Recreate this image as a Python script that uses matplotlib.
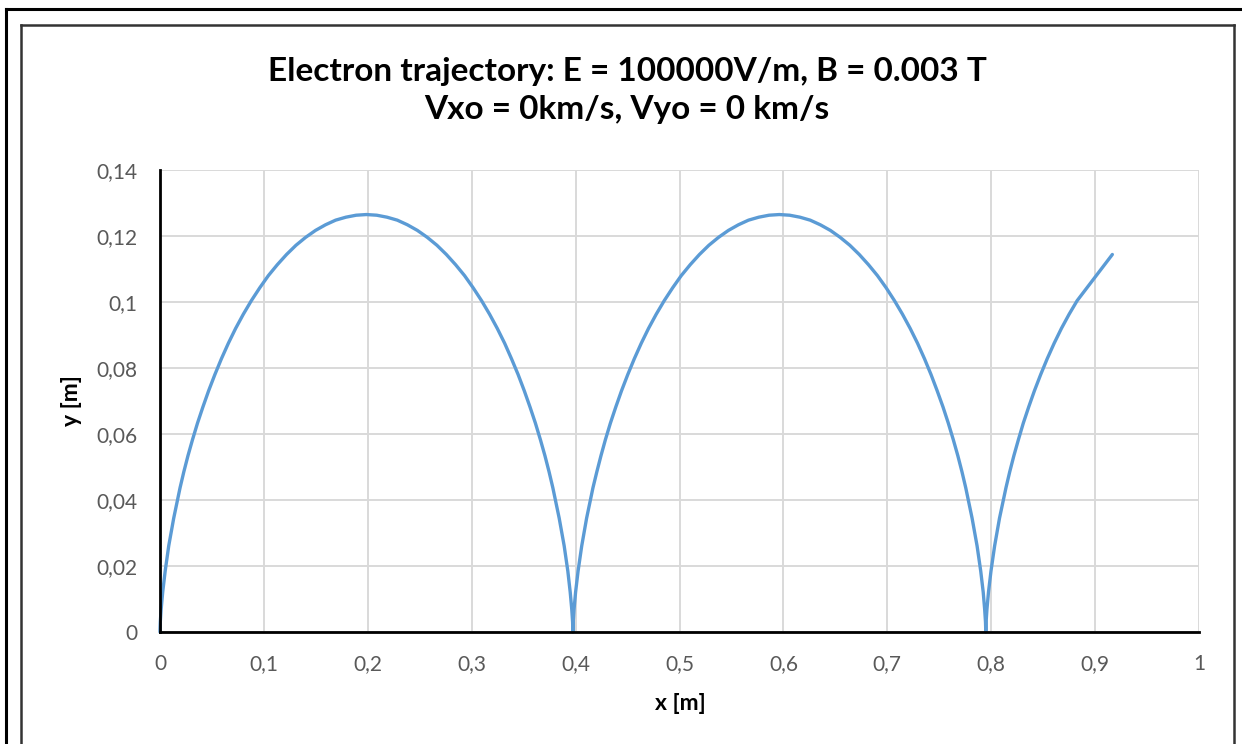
import matplotlib
matplotlib.use("Agg")
import matplotlib.pyplot as plt
from matplotlib.lines import Line2D

plt.rcParams['font.family'] = ['Lato', 'DejaVu Sans']

# trajectory (x [m], y [m])
x_m = [0.0000, 0.0000, 0.0003, 0.0011, 0.0026, 0.0050, 0.0084, 0.0132, 0.0193, 0.0229,
       0.0269, 0.0313, 0.0361, 0.0413, 0.0468, 0.0528, 0.0591, 0.0658, 0.0728, 0.0802,
       0.0879, 0.0960, 0.1043, 0.1129, 0.1218, 0.1309, 0.1402, 0.1497, 0.1593, 0.1690,
       0.1789, 0.1888, 0.1987, 0.2086, 0.2185, 0.2284, 0.2381, 0.2477, 0.2572, 0.2665,
       0.2756, 0.2845, 0.2931, 0.3014, 0.3095, 0.3172, 0.3246, 0.3317, 0.3383, 0.3447,
       0.3506, 0.3561, 0.3613, 0.3661, 0.3705, 0.3745, 0.3781, 0.3842, 0.3890, 0.3925,
       0.3948, 0.3963, 0.3971, 0.3974, 0.3974,
       0.3975, 0.3977, 0.3985, 0.4000, 0.4024, 0.4059, 0.4106, 0.4167, 0.4204,
       0.4244, 0.4287, 0.4335, 0.4387, 0.4442, 0.4502, 0.4565, 0.4632, 0.4702, 0.4776,
       0.4853, 0.4934, 0.5017, 0.5103, 0.5192, 0.5283, 0.5376, 0.5471, 0.5567, 0.5664,
       0.5763, 0.5862, 0.5961, 0.6060, 0.6159, 0.6258, 0.6355, 0.6452, 0.6546, 0.6639,
       0.6730, 0.6819, 0.6905, 0.6989, 0.7069, 0.7146, 0.7220, 0.7291, 0.7358, 0.7421,
       0.7480, 0.7536, 0.7587, 0.7635, 0.7679, 0.7719, 0.7755, 0.7816, 0.7864, 0.7899,
       0.7923, 0.7937, 0.7945, 0.7948, 0.7948,
       0.7949, 0.7951, 0.7959, 0.7974, 0.7998, 0.8033, 0.8080, 0.8142, 0.8178,
       0.8218, 0.8262, 0.8309, 0.8361, 0.8416, 0.8476, 0.8539, 0.8606, 0.8676, 0.8750,
       0.8827, 0.9166]
y_m = [0.0000, 0.0008, 0.0031, 0.0069, 0.0121, 0.0185, 0.0261, 0.0345, 0.0437, 0.0485,
       0.0534, 0.0583, 0.0633, 0.0682, 0.0731, 0.0780, 0.0828, 0.0875, 0.0920, 0.0963,
       0.1004, 0.1043, 0.1080, 0.1113, 0.1144, 0.1172, 0.1196, 0.1217, 0.1234, 0.1248,
       0.1257, 0.1263, 0.1265, 0.1263, 0.1257, 0.1248, 0.1234, 0.1217, 0.1196, 0.1172,
       0.1144, 0.1113, 0.1080, 0.1043, 0.1004, 0.0963, 0.0920, 0.0875, 0.0828, 0.0780,
       0.0731, 0.0682, 0.0633, 0.0583, 0.0534, 0.0485, 0.0437, 0.0345, 0.0261, 0.0185,
       0.0121, 0.0069, 0.0031, 0.0008, 0.0000,
       0.0008, 0.0031, 0.0069, 0.0121, 0.0185, 0.0261, 0.0345, 0.0437, 0.0485,
       0.0534, 0.0583, 0.0633, 0.0682, 0.0731, 0.0780, 0.0828, 0.0875, 0.0920, 0.0963,
       0.1004, 0.1043, 0.1080, 0.1113, 0.1144, 0.1172, 0.1196, 0.1217, 0.1234, 0.1248,
       0.1257, 0.1263, 0.1265, 0.1263, 0.1257, 0.1248, 0.1234, 0.1217, 0.1196, 0.1172,
       0.1144, 0.1113, 0.1080, 0.1043, 0.1004, 0.0963, 0.0920, 0.0875, 0.0828, 0.0780,
       0.0731, 0.0682, 0.0633, 0.0583, 0.0534, 0.0485, 0.0437, 0.0345, 0.0261, 0.0185,
       0.0121, 0.0069, 0.0031, 0.0008, 0.0000,
       0.0008, 0.0031, 0.0069, 0.0121, 0.0185, 0.0261, 0.0345, 0.0437, 0.0485,
       0.0534, 0.0583, 0.0633, 0.0682, 0.0731, 0.0780, 0.0828, 0.0875, 0.0920, 0.0963,
       0.1004, 0.1144]

x_ticks = [0, 0.1, 0.2, 0.3, 0.4, 0.5, 0.6, 0.7, 0.8, 0.9, 1]
y_ticks = [0, 0.02, 0.04, 0.06, 0.08, 0.1, 0.12, 0.14]
x_labels = ['0', '0,1', '0,2', '0,3', '0,4', '0,5', '0,6', '0,7', '0,8', '0,9', '1']
y_labels = ['0', '0,02', '0,04', '0,06', '0,08', '0,1', '0,12', '0,14']

W, H = 1242, 744
fig = plt.figure(figsize=(W / 100, H / 100), dpi=100)
ax = fig.add_axes([160 / W, 1 - 632 / H, (1199 - 160) / W, (632 - 170) / H])

ax.plot(x_m, y_m, color='#5B9BD5', linewidth=2.4, solid_capstyle='round',
        solid_joinstyle='round', zorder=3, clip_on=False)

ax.set_xlim(0, 1)
ax.set_ylim(0, 0.14)
ax.set_xticks(x_ticks)
ax.set_xticklabels(x_labels)
ax.set_yticks(y_ticks)
ax.set_yticklabels(y_labels)
ax.tick_params(length=0, labelsize=15, labelcolor='#595959')
ax.tick_params(axis='x', pad=16)
ax.tick_params(axis='y', pad=16)
ax.grid(True, color='#d9d9d9', linewidth=1.4)
ax.set_axisbelow(True)
for s in ['top', 'right']:
    ax.spines[s].set_visible(False)
for s in ['left', 'bottom']:
    ax.spines[s].set_color('black')
    ax.spines[s].set_linewidth(2)
    ax.spines[s].set_zorder(4)

fig.text(680 / W, 1 - 703 / H, 'x [m]', ha='center', va='center',
         fontsize=16.5, fontweight='bold')
fig.text(72 / W, 1 - 401 / H, 'y [m]', ha='center', va='center', rotation=90,
         fontsize=16.5, fontweight='bold')

fig.text(627 / W, 1 - 72 / H, 'Electron trajectory: E = 100000V/m, B = 0.003 T',
         ha='center', va='center', fontsize=24, fontweight='bold')
fig.text(627 / W, 1 - 110 / H, 'Vxo = 0km/s, Vyo = 0 km/s',
         ha='center', va='center', fontsize=24, fontweight='bold')

# outer and inner frames
def px_line(x0, y0, x1, y1, color, lw):
    fig.add_artist(Line2D([x0 / W, x1 / W], [1 - y0 / H, 1 - y1 / H],
                          transform=fig.transFigure, color=color, linewidth=lw))

px_line(5.5, 9, W, 9, 'black', 2.2)
px_line(5.5, 9, 5.5, H, 'black', 2.2)
px_line(20.5, 25, 1233.5, 25, '#333333', 1.8)
px_line(20.5, 25, 20.5, H, '#333333', 1.8)
px_line(1233.5, 25, 1233.5, H, '#333333', 1.8)

fig.savefig('out.png', dpi=100)
